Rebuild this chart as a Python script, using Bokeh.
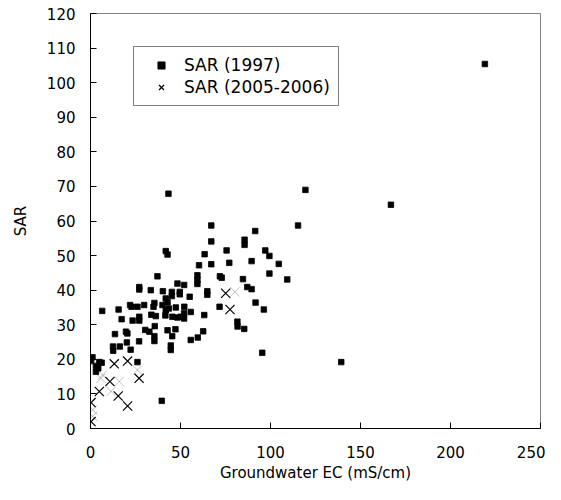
from bokeh.plotting import figure
from bokeh.models import ColumnDataSource, FixedTicker, Range1d, Legend, LegendItem
from bokeh.embed import file_html
from bokeh.resources import INLINE

# ---- data ----
ec_1997 = [219.1, 119.4, 166.9, 43.3, 115.3, 67.1, 91.5, 85.6, 85.6, 67.1,
           41.8, 42.8, 63.4, 75.6, 97.1, 99.4, 60.3, 67.1, 77.1, 89.5,
           104.6, 37.2, 59.4, 59.4, 59.4, 71.9, 72.9, 84.7, 109.3, 99.4,
           48.3, 52.0, 27.1, 27.1, 33.5, 40.2, 45.2, 45.2, 49.6, 49.6,
           64.9, 64.9, 87.1, 89.5, 41.8, 42.8, 55.1, 35.5, 91.7, 96.3,
           71.7, 22.0, 22.8, 26.1, 29.8, 35.0, 40.0, 47.4, 43.5, 41.8,
           52.1, 55.7, 15.6, 6.5, 33.8, 36.3, 41.6, 45.5, 48.3, 50.1,
           52.0, 52.0, 63.2, 17.3, 23.4, 27.1, 27.1, 81.6, 81.7, 85.4,
           35.7, 30.4, 32.7, 42.8, 47.2, 19.7, 20.5, 13.6, 35.5, 45.4,
           62.6, 59.6, 55.7, 20.2, 27.0, 35.5, 44.6, 44.6, 12.5, 16.3,
           22.3, 95.4, 139.3, 1.1, 4.9, 6.2, 3.0, 4.3, 3.0, 26.1,
           12.6, 39.6, 0.3]
sar_1997 = [105.4, 69.0, 64.7, 67.9, 58.7, 58.7, 57.1, 54.6, 53.1, 54.1,
            51.3, 50.3, 50.4, 51.5, 51.5, 49.9, 47.2, 47.5, 47.9, 48.4,
            47.6, 44.0, 44.3, 43.0, 41.8, 44.0, 43.6, 43.2, 43.1, 44.8,
            41.9, 41.5, 40.9, 40.2, 40.0, 39.7, 39.5, 38.3, 39.5, 38.8,
            39.7, 38.7, 40.9, 40.3, 37.6, 36.5, 38.1, 36.3, 36.4, 34.4,
            35.2, 35.7, 35.2, 35.2, 35.7, 35.2, 35.7, 35.0, 34.7, 34.2,
            35.2, 33.7, 34.4, 34.0, 32.9, 32.5, 32.7, 32.3, 32.1, 32.3,
            33.3, 31.8, 32.8, 31.6, 31.2, 32.3, 31.2, 30.9, 29.5, 28.8,
            29.6, 28.5, 28.0, 28.4, 28.7, 28.0, 27.5, 27.3, 26.7, 26.7,
            28.1, 26.3, 25.6, 24.9, 25.2, 25.3, 24.0, 22.7, 23.7, 23.7,
            22.8, 21.9, 19.2, 20.6, 19.2, 19.0, 18.1, 17.4, 16.4, 19.2,
            22.5, 8.0, 19.5]

ec_2005 = [13.2, 20.6, 27.0, 10.8, 4.9, 15.4, 20.6, 0.3, 0.3, 75.1, 77.5]
sar_2005 = [18.7, 19.5, 14.5, 13.6, 10.7, 9.4, 6.5, 7.5, 2.0, 39.1, 34.4]
# faintly drawn marks of the 2005-2006 series
ec_2005_faint = [6.7, 5.8, 16.0, 26.1, 11.4, 1.2, 1.2, 80.2]
sar_2005_faint = [15.5, 14.5, 13.6, 16.9, 10.7, 5.4, 3.5, 39.5]

x_ticks = [0, 50, 100, 150, 200, 250]
y_ticks = list(range(0, 121, 10))

n1 = min(len(ec_1997), len(sar_1997))
src97 = ColumnDataSource(dict(x=ec_1997[:n1], y=sar_1997[:n1]))
src05 = ColumnDataSource(dict(x=ec_2005, y=sar_2005))
src05f = ColumnDataSource(dict(x=ec_2005_faint, y=sar_2005_faint))

FONT = "DejaVu Sans"

p = figure(width=545, height=484, output_backend="svg", toolbar_location=None,
           x_range=Range1d(0, 250), y_range=Range1d(0, 120),
           min_border_left=90, min_border_right=5, min_border_top=13,
           min_border_bottom=54)
p.grid.visible = False
p.background_fill_color = "white"
p.border_fill_color = "white"
p.outline_line_color = "#808080"
p.outline_line_width = 1

r97 = p.scatter("x", "y", source=src97, marker="square", size=5.5,
                fill_color="black", line_color="black", line_width=0.8)
r05 = p.scatter("x", "y", source=src05, marker="x", size=13,
                line_color="black", line_width=1.2)
p.scatter("x", "y", source=src05f, marker="x", size=13,
          line_color="black", line_width=1, line_alpha=0.25)

for ax in (p.xaxis[0], p.yaxis[0]):
    ax.axis_line_color = "black"
    ax.axis_line_width = 1
    ax.major_tick_in = 6
    ax.major_tick_out = 0
    ax.major_tick_line_color = "black"
    ax.minor_tick_line_color = None
    ax.major_label_text_font = FONT
    ax.major_label_text_font_size = "15px"
    ax.major_label_text_color = "black"
    ax.axis_label_text_font = FONT
    ax.axis_label_text_font_size = "15px"
    ax.axis_label_text_font_style = "normal"
    ax.axis_label_text_color = "black"

p.xaxis.ticker = FixedTicker(ticks=x_ticks)
p.yaxis.ticker = FixedTicker(ticks=y_ticks)
p.xaxis.axis_label = "Groundwater EC (mS/cm)"
p.yaxis.axis_label = "SAR"
p.xaxis.major_label_standoff = 17
p.xaxis.axis_label_standoff = 3
p.yaxis.major_label_standoff = 15
p.yaxis.axis_label_standoff = 14

legend = Legend(items=[LegendItem(label="SAR (1997)", renderers=[r97]),
                       LegendItem(label="SAR (2005-2006)", renderers=[r05])],
                location=(43, 322))
legend.border_line_color = "black"
legend.border_line_width = 1
legend.background_fill_color = "white"
legend.background_fill_alpha = 1
legend.label_text_font = FONT
legend.label_text_font_size = "17px"
legend.label_text_color = "black"
legend.padding = 8
legend.glyph_width = 38
legend.glyph_height = 18
legend.label_standoff = 4
legend.label_height = 18
legend.spacing = 2
legend.margin = 0
p.add_layout(legend, "center")

open("out.html", "w").write(file_html(p, INLINE))
